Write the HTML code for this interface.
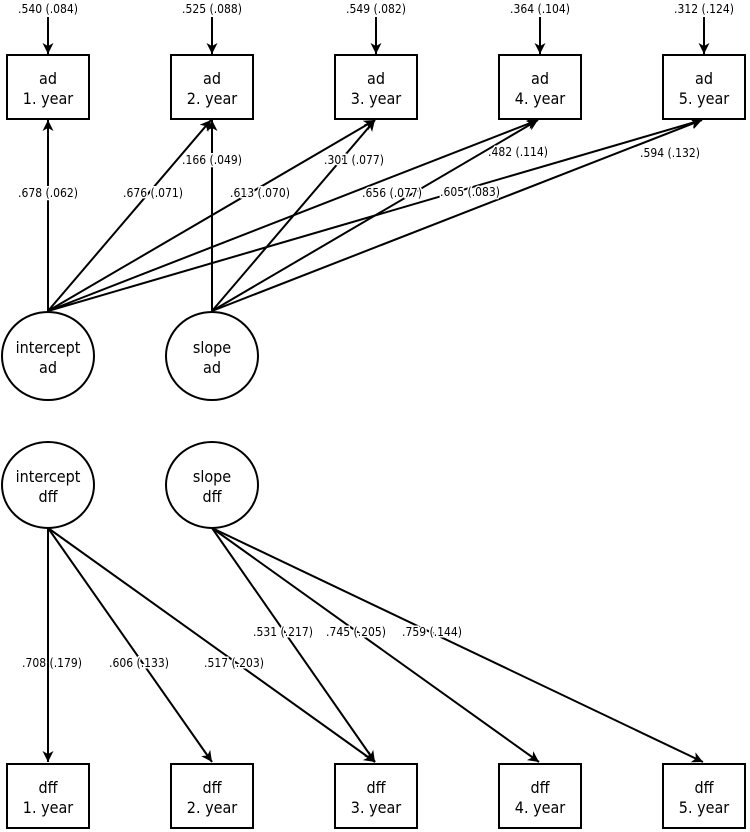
<!DOCTYPE html>
<html><head><meta charset="utf-8"><style>
html,body{margin:0;padding:0;background:#fff}
svg{display:block}
text{font-family:"DejaVu Sans Condensed","DejaVu Sans","Liberation Sans",sans-serif;fill:#000}
.l{font-size:12px}
.n{font-size:16px}
</style></head><body>
<svg width="750" height="832" viewBox="0 0 750 832" xmlns="http://www.w3.org/2000/svg">
<defs><marker id="a" markerWidth="12" markerHeight="12" refX="11" refY="5.5" orient="auto" markerUnits="userSpaceOnUse"><path d="M0,0 L11,5.5 L0,11 L3,5.5 Z" fill="#000"/></marker></defs>
<g stroke="#000" stroke-width="2" fill="none">
<line x1="48" y1="17" x2="48" y2="54" marker-end="url(#a)"/>
<line x1="212" y1="17" x2="212" y2="54" marker-end="url(#a)"/>
<line x1="376" y1="17" x2="376" y2="54" marker-end="url(#a)"/>
<line x1="540" y1="17" x2="540" y2="54" marker-end="url(#a)"/>
<line x1="704" y1="17" x2="704" y2="54" marker-end="url(#a)"/>
<line x1="48" y1="311" x2="48" y2="120" marker-end="url(#a)"/>
<line x1="48" y1="311" x2="211" y2="120" marker-end="url(#a)"/>
<line x1="48" y1="311" x2="375" y2="120" marker-end="url(#a)"/>
<line x1="48" y1="311" x2="538" y2="120" marker-end="url(#a)"/>
<line x1="48" y1="311" x2="702" y2="120" marker-end="url(#a)"/>
<line x1="212" y1="311" x2="212" y2="120" marker-end="url(#a)"/>
<line x1="212" y1="311" x2="375" y2="120" marker-end="url(#a)"/>
<line x1="212" y1="311" x2="538" y2="120" marker-end="url(#a)"/>
<line x1="212" y1="311" x2="702" y2="120" marker-end="url(#a)"/>
<line x1="48" y1="528" x2="48" y2="762" marker-end="url(#a)"/>
<line x1="48" y1="528" x2="212" y2="762" marker-end="url(#a)"/>
<line x1="48" y1="528" x2="375" y2="762" marker-end="url(#a)"/>
<line x1="212" y1="528" x2="375" y2="762" marker-end="url(#a)"/>
<line x1="212" y1="528" x2="539" y2="762" marker-end="url(#a)"/>
<line x1="212" y1="528" x2="703" y2="762" marker-end="url(#a)"/>
<rect x="7" y="55" width="82" height="64" fill="#fff"/>
<rect x="171" y="55" width="82" height="64" fill="#fff"/>
<rect x="335" y="55" width="82" height="64" fill="#fff"/>
<rect x="499" y="55" width="82" height="64" fill="#fff"/>
<rect x="663" y="55" width="82" height="64" fill="#fff"/>
<rect x="7" y="764" width="82" height="64" fill="#fff"/>
<rect x="171" y="764" width="82" height="64" fill="#fff"/>
<rect x="335" y="764" width="82" height="64" fill="#fff"/>
<rect x="499" y="764" width="82" height="64" fill="#fff"/>
<rect x="663" y="764" width="82" height="64" fill="#fff"/>
<ellipse cx="48" cy="356" rx="46" ry="44" fill="#fff"/>
<ellipse cx="212" cy="356" rx="46" ry="44" fill="#fff"/>
<ellipse cx="48" cy="485" rx="46" ry="43" fill="#fff"/>
<ellipse cx="212" cy="485" rx="46" ry="43" fill="#fff"/>
</g>
<g class="n" text-anchor="middle">
<text x="48" y="84">ad</text><text x="48" y="104">1. year</text>
<text x="212" y="84">ad</text><text x="212" y="104">2. year</text>
<text x="376" y="84">ad</text><text x="376" y="104">3. year</text>
<text x="540" y="84">ad</text><text x="540" y="104">4. year</text>
<text x="704" y="84">ad</text><text x="704" y="104">5. year</text>
<text x="48" y="793">dff</text><text x="48" y="813">1. year</text>
<text x="212" y="793">dff</text><text x="212" y="813">2. year</text>
<text x="376" y="793">dff</text><text x="376" y="813">3. year</text>
<text x="540" y="793">dff</text><text x="540" y="813">4. year</text>
<text x="704" y="793">dff</text><text x="704" y="813">5. year</text>
<text x="48" y="353">intercept</text><text x="48" y="373">ad</text>
<text x="212" y="353">slope</text><text x="212" y="373">ad</text>
<text x="48" y="482">intercept</text><text x="48" y="502">dff</text>
<text x="212" y="482">slope</text><text x="212" y="502">dff</text>
</g>
<g class="l" text-anchor="middle" style="paint-order:stroke;stroke:#fff;stroke-width:3px">
<text x="48" y="13">.540 (.084)</text>
<text x="212" y="13">.525 (.088)</text>
<text x="376" y="13">.549 (.082)</text>
<text x="540" y="13">.364 (.104)</text>
<text x="704" y="13">.312 (.124)</text>
<text x="48" y="197">.678 (.062)</text>
<text x="153" y="197">.676 (.071)</text>
<text x="212" y="164">.166 (.049)</text>
<text x="260" y="197">.613 (.070)</text>
<text x="354" y="164">.301 (.077)</text>
<text x="392" y="197">.656 (.077)</text>
<text x="518" y="156">.482 (.114)</text>
<text x="470" y="196">.605 (.083)</text>
<text x="670" y="157">.594 (.132)</text>
<text x="52" y="667">.708 (.179)</text>
<text x="139" y="667">.606 (.133)</text>
<text x="234" y="667">.517 (.203)</text>
<text x="283" y="636">.531 (.217)</text>
<text x="356" y="636">.745 (.205)</text>
<text x="432" y="636">.759 (.144)</text>
</g>
</svg>
</body></html>
